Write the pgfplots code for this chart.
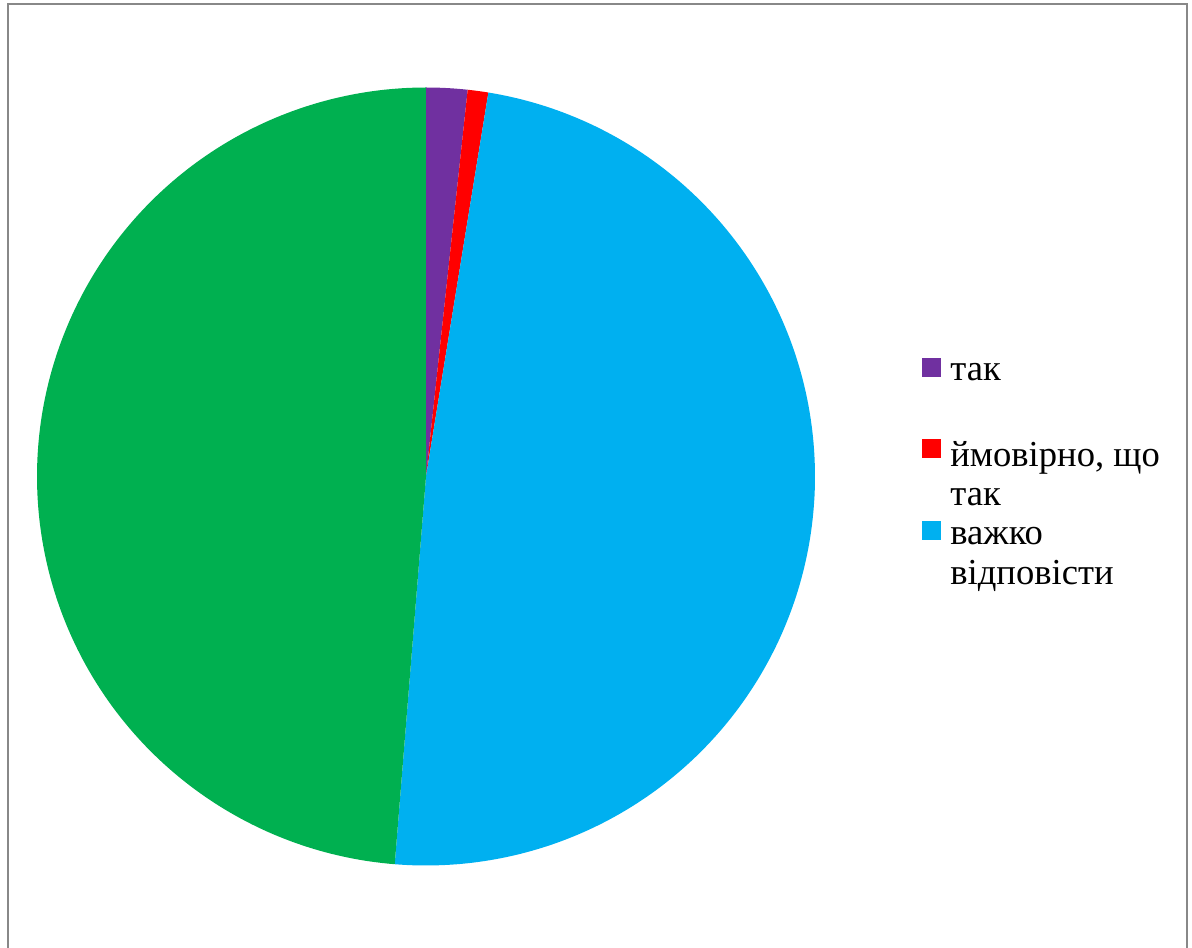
\documentclass[border=0pt]{standalone}
\usepackage{pgfplots}
\usepackage{pgfplotstable}
\pgfplotsset{compat=1.18}
\usepackage{fontspec}
\setmainfont{Liberation Serif}
\newfontfamily\legfont{Liberation Serif}
\definecolor{cPurple}{RGB}{112,48,160}
\definecolor{cRed}{RGB}{255,0,0}
\definecolor{cBlue}{RGB}{0,176,240}
\definecolor{cGreen}{RGB}{0,176,80}
\definecolor{cFrame}{RGB}{136,136,136}

% pie values (order clockwise from 12 o'clock)
\pgfplotstableread{
idx value
0 2
1 1
2 57
3 57
}\piedata
\pgfplotstablegetelem{0}{value}\of\piedata \let\vA\pgfplotsretval
\pgfplotstablegetelem{1}{value}\of\piedata \let\vB\pgfplotsretval
\pgfplotstablegetelem{2}{value}\of\piedata \let\vC\pgfplotsretval
\pgfplotstablegetelem{3}{value}\of\piedata \let\vD\pgfplotsretval
\pgfmathsetmacro\total{\vA+\vB+\vC+\vD}
\pgfmathsetmacro\aA{90}
\pgfmathsetmacro\aB{\aA-360*(\vA/\total)}
\pgfmathsetmacro\aC{\aB-360*(\vB/\total)}
\pgfmathsetmacro\aD{\aC-360*(\vC/\total)}
\pgfmathsetmacro\aE{\aD-360*(\vD/\total)}
\def\cx{426}\def\cy{471.5}\def\R{389}

\begin{document}
\begin{tikzpicture}
\begin{axis}[
  width=596bp, height=474bp, scale only axis,
  xmin=0, xmax=1192, ymin=0, ymax=948,
  hide axis, clip=false,
]
\addplot[draw=none, fill=cPurple, domain=\aB:\aA, samples=20]
  ({\cx+\R*cos(x)},{\cy+\R*sin(x)}) -- (axis cs:\cx,\cy) -- cycle;
\addplot[draw=none, fill=cRed, domain=\aC:\aB, samples=20]
  ({\cx+\R*cos(x)},{\cy+\R*sin(x)}) -- (axis cs:\cx,\cy) -- cycle;
\addplot[draw=none, fill=cBlue, domain=\aD:\aC, samples=200]
  ({\cx+\R*cos(x)},{\cy+\R*sin(x)}) -- (axis cs:\cx,\cy) -- cycle;
\addplot[draw=none, fill=cGreen, domain=\aE:\aD, samples=200]
  ({\cx+\R*cos(x)},{\cy+\R*sin(x)}) -- (axis cs:\cx,\cy) -- cycle;

% frame
\draw[cFrame, line width=1.1bp] (axis cs:8,0) -- (axis cs:8,944) -- (axis cs:1187,944) -- (axis cs:1187,0);

% legend
\fill[cPurple] (axis cs:922,571) rectangle (axis cs:941,590);
\fill[cRed] (axis cs:922,490) rectangle (axis cs:941,509);
\fill[cBlue] (axis cs:922,408) rectangle (axis cs:941,427);
\begin{scope}[every node/.style={anchor=base west, inner sep=0pt, font=\legfont\fontsize{18.3bp}{20bp}\selectfont}]
\node at (axis cs:950,567.3) {так};
\node at (axis cs:950,481.3) {ймовірно, що};
\node at (axis cs:950,442.3) {так};
\node at (axis cs:950,403) {важко};
\node at (axis cs:950,363) {відповісти};
\end{scope}
\end{axis}
\pgfresetboundingbox
\path (current axis.south west) rectangle (current axis.north east);
\end{tikzpicture}
\end{document}
